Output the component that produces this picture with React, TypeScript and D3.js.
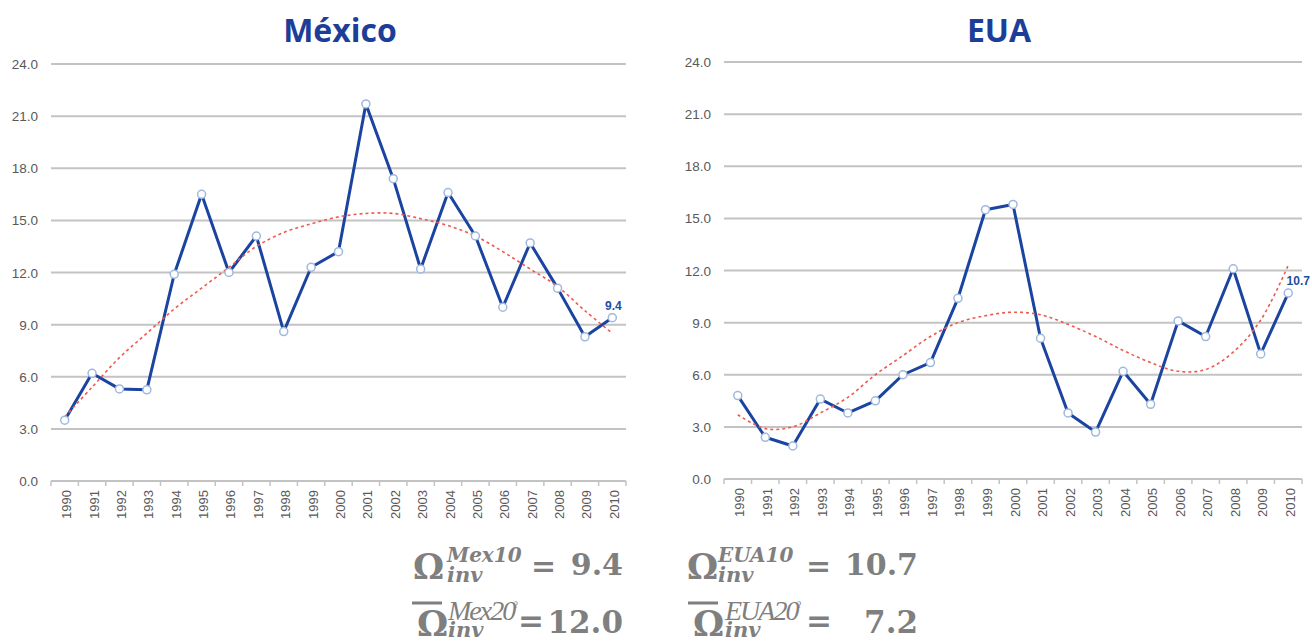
import React from "react";
import * as d3 from "d3";

const years = ["1990","1991","1992","1993","1994","1995","1996","1997","1998","1999","2000","2001","2002","2003","2004","2005","2006","2007","2008","2009","2010"];
const mexValues = [3.5,6.2,5.3,5.25,11.9,16.5,12.0,14.1,8.6,12.3,13.2,21.7,17.4,12.2,16.6,14.1,10.0,13.7,11.1,8.3,9.4];
const mexTrend = [3.7,5.4,7.1,8.5,9.9,11.1,12.3,13.5,14.3,14.8,15.2,15.4,15.4,15.1,14.7,14.1,13.2,12.2,11.2,9.8,8.5];
const euaValues = [4.8,2.4,1.9,4.6,3.8,4.5,6.0,6.7,10.4,15.5,15.8,8.1,3.8,2.7,6.2,4.3,9.1,8.2,12.1,7.2,10.7];
const euaTrend = [3.7,2.9,3.0,3.8,4.7,6.0,7.1,8.2,9.0,9.4,9.6,9.45,8.9,8.2,7.4,6.7,6.2,6.3,7.3,9.15,12.3];
const yTicks = [0,3,6,9,12,15,18,21,24];

const BLUE = "#1a44a0";
const GRID = "#c3c3c3";
const SANS = "'Liberation Sans', Arial, sans-serif";

type ChartProps = {
  title: string; values: number[]; trend: number[];
  x0: number; x1: number; yb: number; yt: number; titleX: number; labelDx: number;
};

function Chart({ title, values, trend, x0, x1, yb, yt, titleX, labelDx }: ChartProps) {
  const x = d3.scaleBand<string>().domain(years).range([x0, x1]).padding(0);
  const y = d3.scaleLinear().domain([0, 24]).range([yb, yt]);
  const cx = (i: number) => (x(years[i]) as number) + x.bandwidth() / 2;
  const line = d3.line<number>().x((_, i) => cx(i)).y((d) => y(d));
  const trendLine = d3.line<number>().x((_, i) => cx(i)).y((d) => y(d)).curve(d3.curveCatmullRom);
  const fmt = d3.format(".1f");
  const last = values.length - 1;
  return (
    <g>
      <text x={titleX} y={42} textAnchor="middle" fontFamily="'Open Sans', sans-serif" fontWeight={700} fontSize={32} fill="#1c3e99">{title}</text>
      {yTicks.map((t) => (
        <g key={t}>
          <line x1={x0} x2={x1} y1={y(t)} y2={y(t)} stroke={GRID} strokeWidth={2} />
          <text x={x0 - 13} y={y(t) + 5} textAnchor="end" fontFamily={SANS} fontSize={13.5} fill="#595959">{fmt(t)}</text>
        </g>
      ))}
      {years.map((yr) => (
        <line key={"t" + yr} x1={x(yr) as number} x2={x(yr) as number} y1={yb} y2={yb + 5} stroke={GRID} strokeWidth={1.5} />
      ))}
      <line x1={x1} x2={x1} y1={yb} y2={yb + 5} stroke={GRID} strokeWidth={1.5} />
      {years.map((yr, i) => (
        <text key={"l" + yr} transform={`translate(${cx(i) + 6.5},${yb + 9}) rotate(-90)`} textAnchor="end" fontFamily={SANS} fontSize={13} fill="#595959">{yr}</text>
      ))}
      <path d={line(values) as string} fill="none" stroke={BLUE} strokeWidth={3} strokeLinejoin="round" />
      <path d={trendLine(trend) as string} fill="none" stroke="#ee5a50" strokeWidth={1.6} strokeDasharray="3,3" />
      {values.map((v, i) => (
        <circle key={"c" + i} cx={cx(i)} cy={y(v)} r={4} fill="#ffffff" stroke="#9fb8de" strokeWidth={1.5} />
      ))}
      <text x={cx(last) + labelDx} y={y(values[last]) - 8} textAnchor="middle" fontFamily={SANS} fontWeight={700} fontSize={12} fill="#1f4ea3">{fmt(values[last])}</text>
    </g>
  );
}

const GREY = "#7f7f7f";
const SERIF = "'DejaVu Serif', 'Liberation Serif', serif";
const TIMES = "'Liberation Serif', serif";

type FProps = { omegaX: number; supX: number; sup: string; value: string; valueEnd: number; eqX: number; bar: boolean };

function Formula({ omegaX, supX, sup, value, valueEnd, eqX, bar }: FProps) {
  if (!bar) {
    return (
      <g fill={GREY}>
        <text x={omegaX} y={579} fontFamily={SERIF} fontWeight={700} fontSize={35}>
          Ω
          <tspan x={supX} y={562} fontStyle="italic" fontSize={20}>{sup}</tspan>
          <tspan x={supX} y={582} fontStyle="italic" fontSize={21}>inv</tspan>
        </text>
        <text x={eqX} y={576} fontFamily={SERIF} fontWeight={700} fontSize={30}>=</text>
        <text x={valueEnd} y={575} textAnchor="end" fontFamily={SERIF} fontWeight={700} fontSize={30}>{value}</text>
      </g>
    );
  }
  return (
    <g fill={GREY}>
      <line x1={omegaX - 5} x2={omegaX + 25} y1={603} y2={603} stroke={GREY} strokeWidth={3} />
      <text x={omegaX} y={636} fontFamily={SERIF} fontWeight={700} fontSize={35}>
        Ω
        <tspan x={supX} y={620} fontFamily={TIMES} fontWeight={400} fontStyle="italic" fontSize={28} letterSpacing={-2}>{sup}</tspan>
        <tspan y={612} fontFamily={TIMES} fontWeight={400} fontSize={14}>ˀ</tspan>
        <tspan x={supX} y={637} fontStyle="italic" fontSize={21}>inv</tspan>
      </text>
      <text x={eqX} y={632} fontFamily={SERIF} fontWeight={700} fontSize={31}>=</text>
      <text x={valueEnd} y={633} textAnchor="end" fontFamily={SERIF} fontWeight={700} fontSize={31}>{value}</text>
    </g>
  );
}

export default function App() {
  return (
    <svg width={1312} height={643} style={{ position: "absolute", left: 0, top: 0, background: "#fff" }}>
      <Chart title="México" values={mexValues} trend={mexTrend} x0={51} x1={626} yb={481} yt={64} titleX={340} labelDx={1} />
      <Chart title="EUA" values={euaValues} trend={euaTrend} x0={724} x1={1302} yb={479} yt={62} titleX={999} labelDx={10} />
      <Formula omegaX={413} supX={447} sup="Mex10" value="9.4" valueEnd={623} eqX={531} bar={false} />
      <Formula omegaX={417} supX={448} sup="Mex20" value="12.0" valueEnd={623} eqX={518} bar={true} />
      <Formula omegaX={687} supX={718} sup="EUA10" value="10.7" valueEnd={918} eqX={806} bar={false} />
      <Formula omegaX={693} supX={725} sup="EUA20" value="7.2" valueEnd={918} eqX={806} bar={true} />
    </svg>
  );
}
